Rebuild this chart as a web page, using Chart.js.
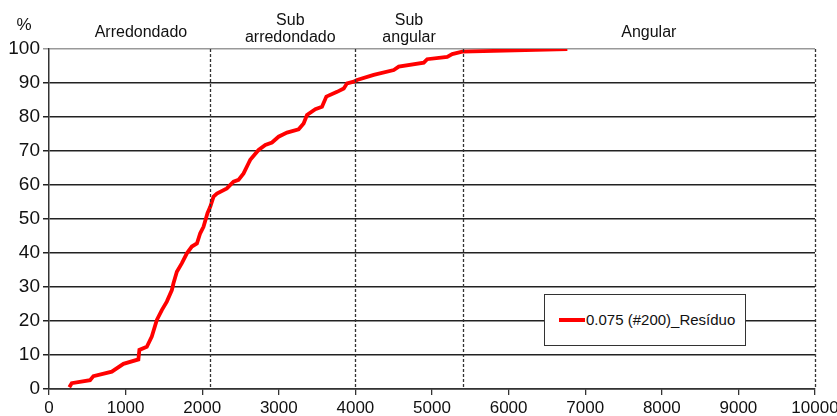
<!DOCTYPE html>
<html>
<head>
<meta charset="utf-8">
<script src="https://cdn.jsdelivr.net/npm/chart.js@4"></script>
<style>
  html, body { margin: 0; padding: 0; background: #fff; }
  #wrap { position: relative; width: 837px; height: 416px; }
  #legend { position: absolute; left: 544px; top: 294px; width: 200px; height: 50px;
    border: 1px solid #333; background: #fff; font: 15px "Liberation Sans", Arial, sans-serif; color: #111; }
  #legend .sw { position: absolute; left: 14px; top: 23px; width: 26px; height: 4px; background: #ff0000; }
  #legend .tx { position: absolute; left: 41px; top: 16px; white-space: nowrap; }
</style>
</head>
<body>
<div id="wrap">
  <canvas id="c" width="837" height="416"></canvas>
  <div id="legend"><div class="sw"></div><div class="tx" id="legendText"></div></div>
</div>
<script>
// Data
const seriesName = '0.075 (#200)_Resíduo';
const sizeValues = [265, 297, 536, 580, 820, 972, 1167, 1180, 1277, 1342, 1408, 1473, 1538, 1604, 1625, 1669,
  1735, 1800, 1865, 1931, 1974, 2017, 2069, 2105, 2148, 2192, 2322, 2409, 2474, 2540, 2605, 2627, 2736, 2824,
  2911, 2997, 3107, 3259, 3324, 3368, 3477, 3564, 3621, 3761, 3848, 3891, 3978, 4022, 4239, 4501, 4566, 4893,
  4937, 5199, 5264, 5395, 6767];
const percentValues = [0.5, 1.7, 2.6, 3.8, 5.1, 7.4, 8.7, 11.5, 12.4, 15.4, 20.3, 23.2, 25.7, 29.1, 31.1, 34.5,
  37, 39.9, 41.9, 42.8, 45.8, 47.7, 51.7, 53.6, 56.6, 57.5, 59, 61, 61.5, 63.4, 66.4, 67.4, 70.3, 71.8,
  72.5, 74.2, 75.4, 76.4, 78.1, 80.6, 82.3, 83, 86, 87.4, 88.4, 89.9, 90.4, 90.9, 92.4, 93.8, 94.8, 96,
  97, 97.7, 98.5, 99.2, 100];
const regionBoundaries = [2100, 4000, 5400, 10000];
const regionLabels = [['Arredondado'], ['Sub', 'arredondado'], ['Sub', 'angular'], ['Angular']];
const regionLabelAt = [1200, 3150, 4700, 7830];
const yAxisTitle = '%';

document.getElementById('legendText').textContent = seriesName;

const FONT = '"Liberation Sans", Arial, sans-serif';

const overlay = {
  id: 'overlay',
  afterDatasetsDraw(chart) {
    const { ctx, chartArea, scales } = chart;
    ctx.save();
    // dashed region boundaries
    ctx.strokeStyle = '#333';
    ctx.lineWidth = 1.3;
    ctx.setLineDash([3, 2]);
    regionBoundaries.forEach(v => {
      const x = Math.round(scales.x.getPixelForValue(v)) + 0.5;
      ctx.beginPath();
      ctx.moveTo(x, chartArea.top);
      ctx.lineTo(x, chartArea.bottom);
      ctx.stroke();
    });
    ctx.setLineDash([]);
    // region labels
    ctx.fillStyle = '#111';
    ctx.font = '16px ' + FONT;
    ctx.textAlign = 'center';
    ctx.textBaseline = 'middle';
    regionLabels.forEach((lines, i) => {
      const x = scales.x.getPixelForValue(regionLabelAt[i]);
      if (lines.length === 1) {
        ctx.fillText(lines[0], x, 33);
      } else {
        ctx.fillText(lines[0], x, 21);
        ctx.fillText(lines[1], x, 38);
      }
    });
    ctx.font = '17px ' + FONT;
    ctx.fillText(yAxisTitle, 24, 25);
    ctx.restore();
  }
};

new Chart(document.getElementById('c'), {
  type: 'line',
  data: {
    datasets: [{
      label: seriesName,
      data: sizeValues.map((x, i) => ({ x: x, y: percentValues[i] })),
      borderColor: '#ff0000',
      backgroundColor: '#ff0000',
      borderWidth: 3.8,
      pointRadius: 0,
      tension: 0,
      fill: false
    }]
  },
  options: {
    responsive: false,
    animation: false,
    layout: { padding: { left: 0, right: 22, top: 49, bottom: 0 } },
    plugins: { legend: { display: false }, tooltip: { enabled: false } },
    scales: {
      x: {
        type: 'linear',
        min: 0, max: 10000,
        ticks: { stepSize: 1000, color: '#111', font: { family: FONT, size: 17 }, padding: 3, maxRotation: 0,
          callback: v => String(v) },
        grid: { drawOnChartArea: false, drawTicks: true, tickLength: 6, color: '#333', lineWidth: 1.3 },
        border: { display: true, color: '#333', width: 1.5 },
        afterFit(scale) { scale.height = 27; scale.paddingLeft = 0; scale.paddingRight = 0; }
      },
      y: {
        min: 0, max: 100,
        ticks: { stepSize: 10, color: '#111', font: { family: FONT, size: 19 }, padding: 3 },
        grid: {
          color: ctx => (ctx.tick && ctx.tick.value === 100) ? '#999' : '#222',
          lineWidth: 1.5, tickLength: 6
        },
        border: { display: true, color: '#333', width: 1.5 },
        afterFit(scale) { scale.width = 49; scale.paddingTop = 0; scale.paddingBottom = 0; }
      }
    }
  },
  plugins: [overlay]
});
</script>
</body>
</html>
